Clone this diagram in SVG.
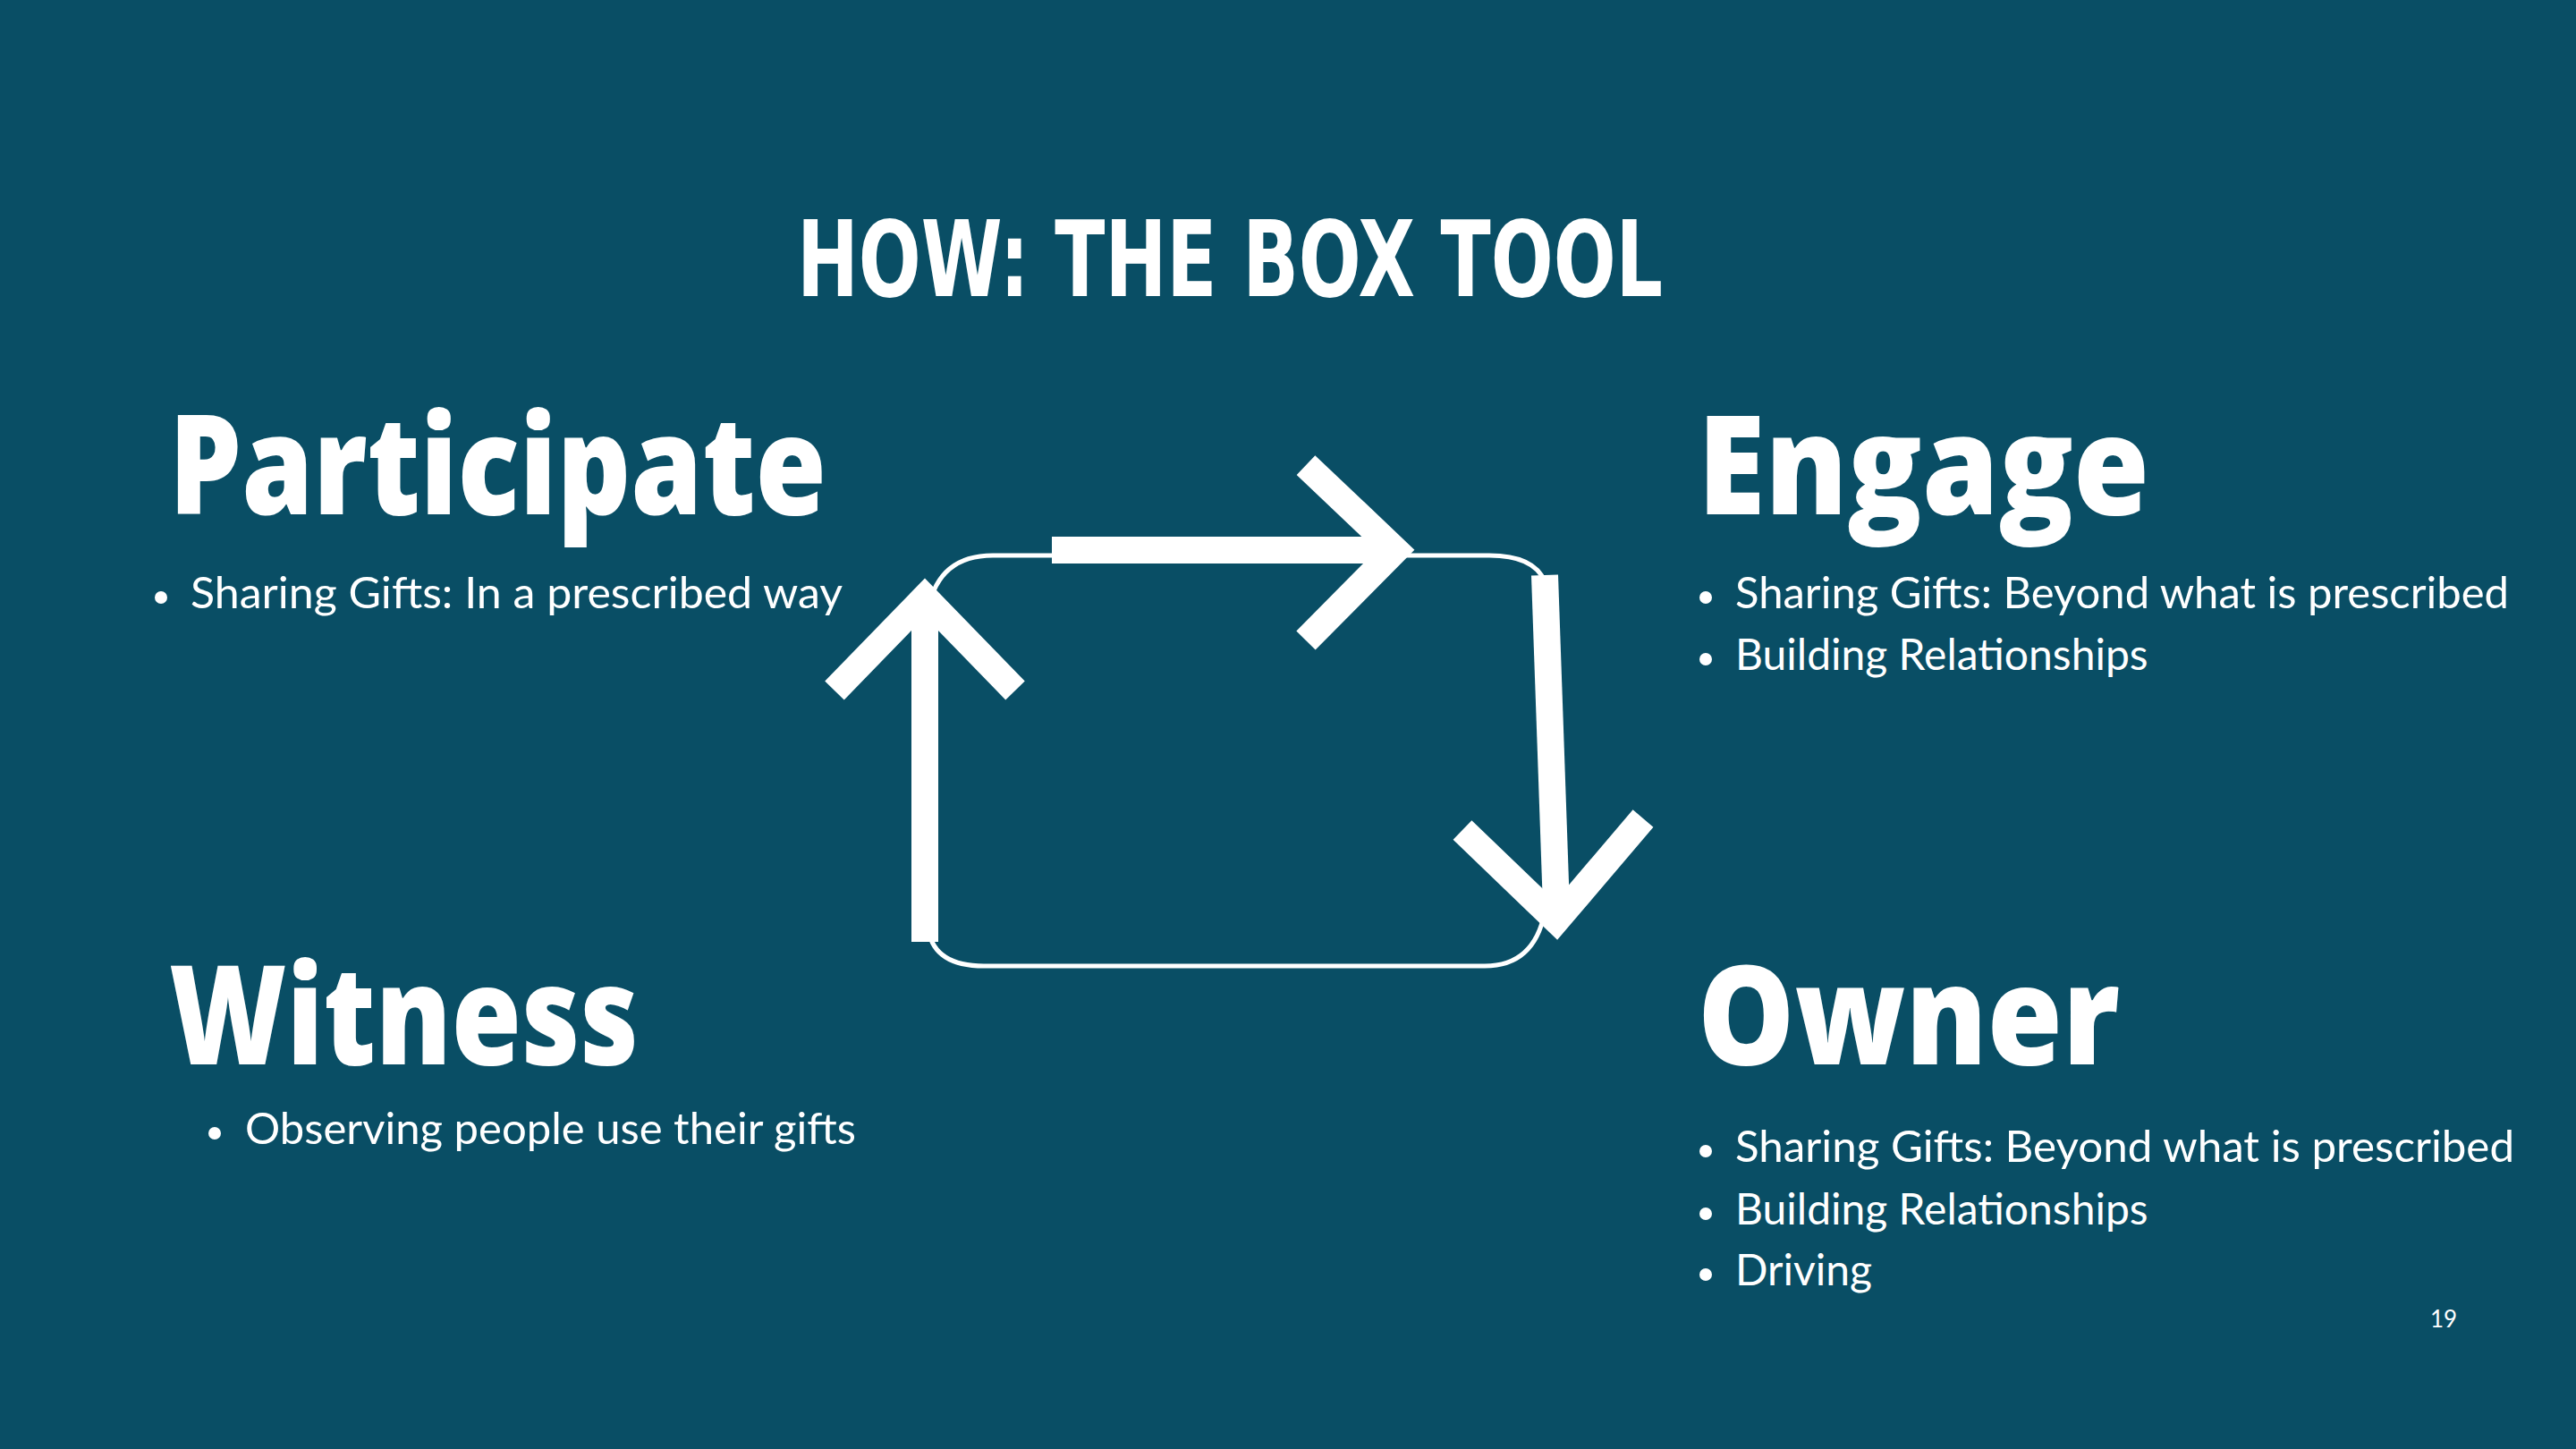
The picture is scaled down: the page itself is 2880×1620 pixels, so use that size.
<svg xmlns="http://www.w3.org/2000/svg" width="2880" height="1620" viewBox="0 0 2880 1620">
<style>
.h{font-family:"Open Sans","DejaVu Sans",sans-serif;font-weight:800;font-size:155px;fill:#fff}
.b{font-family:Lato,"Open Sans",sans-serif;font-size:48px;fill:#fff}
.thick{fill:none;stroke:#fff;stroke-width:30;stroke-linecap:butt;stroke-linejoin:miter}
</style>
<rect width="2880" height="1620" fill="#094e65"/>
<text x="1375" y="331" text-anchor="middle" font-family="DejaVu Sans Condensed,DejaVu Sans,sans-serif" font-weight="bold" font-size="118" fill="#fff" textLength="968" lengthAdjust="spacingAndGlyphs">HOW: THE BOX TOOL</text>
<g id="participate">
<text class="h" x="189" y="575" textLength="735" lengthAdjust="spacingAndGlyphs">Participate</text>
<circle cx="180" cy="668" r="7" fill="#fff"/>
<text class="b" x="213" y="680" textLength="729" lengthAdjust="spacingAndGlyphs">Sharing Gifts: In a prescribed way</text>
</g>
<g id="engage">
<text class="h" x="1898" y="575" textLength="505" lengthAdjust="spacingAndGlyphs">Engage</text>
<circle cx="1907" cy="668" r="7" fill="#fff"/>
<text class="b" x="1940" y="680" textLength="865" lengthAdjust="spacingAndGlyphs">Sharing Gifts: Beyond what is prescribed</text>
<circle cx="1907" cy="737" r="7" fill="#fff"/>
<text class="b" x="1940" y="749">Building Relationships</text>
</g>
<g id="witness">
<text class="h" x="189" y="1190" textLength="525" lengthAdjust="spacingAndGlyphs">Witness</text>
<circle cx="240" cy="1267" r="7" fill="#fff"/>
<text class="b" x="274" y="1279" textLength="683" lengthAdjust="spacingAndGlyphs">Observing people use their gifts</text>
</g>
<g id="owner">
<text class="h" x="1898" y="1190" textLength="472" lengthAdjust="spacingAndGlyphs">Owner</text>
<circle cx="1907" cy="1287" r="7" fill="#fff"/>
<text class="b" x="1940" y="1299" textLength="871" lengthAdjust="spacingAndGlyphs">Sharing Gifts: Beyond what is prescribed</text>
<circle cx="1907" cy="1357" r="7" fill="#fff"/>
<text class="b" x="1940" y="1369">Building Relationships</text>
<circle cx="1907" cy="1425" r="7" fill="#fff"/>
<text class="b" x="1940" y="1437">Driving</text>
</g>
<text x="2732" y="1484" font-family="Lato,sans-serif" font-size="26" fill="#fff" text-anchor="middle">19</text>
<g id="connectors">
<path d="M1038 680 Q1050 621 1110 621 L1665 621 Q1715 621 1727 650 M1727 1020 Q1715 1080 1660 1080 L1100 1080 Q1045 1080 1038 1040" fill="none" stroke="#fff" stroke-width="5"/>
<path class="thick" d="M1176 615 L1560 615"/>
<path class="thick" d="M1460 520 L1560 615 L1460 716"/>
<path class="thick" d="M1727 643 L1740 1015"/>
<path class="thick" d="M1635 928 L1740 1029 L1837 915"/>
<path class="thick" d="M1034 1053 L1034 675"/>
<path class="thick" d="M933 772 L1034 668 L1135 772"/>
</g>
</svg>
